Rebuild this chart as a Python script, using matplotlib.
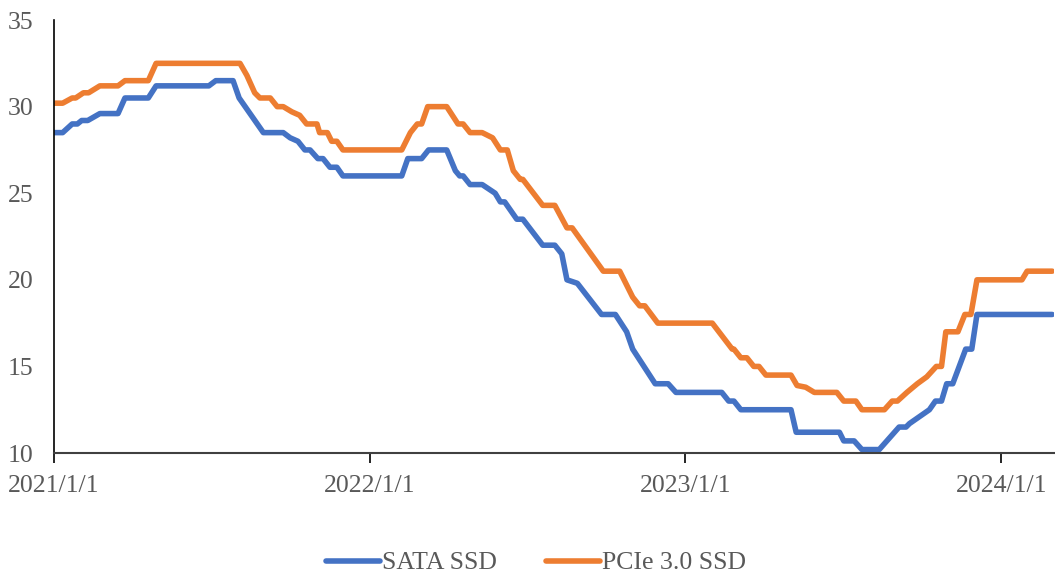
import matplotlib
matplotlib.use("Agg")
import matplotlib.pyplot as plt
import numpy as np
import pandas as pd

plt.rcParams['font.family'] = ['Liberation Serif', 'DejaVu Serif']

sata_dates = [
    "2021-01-01", "2021-01-11", "2021-01-22", "2021-01-28", "2021-02-02", "2021-02-09",
    "2021-02-23", "2021-03-16", "2021-03-24", "2021-04-20", "2021-04-29", "2021-06-29",
    "2021-07-07", "2021-07-27", "2021-08-03", "2021-08-31", "2021-09-23", "2021-10-01",
    "2021-10-10", "2021-10-18", "2021-10-24", "2021-11-02", "2021-11-08", "2021-11-16",
    "2021-11-24", "2021-12-01", "2022-02-07", "2022-02-14", "2022-03-02", "2022-03-10",
    "2022-03-31", "2022-04-10", "2022-04-15", "2022-04-19", "2022-04-27", "2022-05-11",
    "2022-05-26", "2022-06-01", "2022-06-06", "2022-06-20", "2022-06-27", "2022-07-20",
    "2022-08-03", "2022-08-11", "2022-08-17", "2022-08-29", "2022-09-26", "2022-10-12",
    "2022-10-25", "2022-11-01", "2022-11-27", "2022-12-12", "2022-12-21", "2023-02-12",
    "2023-02-20", "2023-02-26", "2023-03-06", "2023-05-03", "2023-05-09", "2023-06-28",
    "2023-07-03", "2023-07-15", "2023-07-24", "2023-08-13", "2023-09-05", "2023-09-13",
    "2023-09-17", "2023-10-10", "2023-10-17", "2023-10-24", "2023-10-30", "2023-11-06",
    "2023-11-21", "2023-11-28", "2023-12-04", "2024-02-29",
]
sata_price = [
    28.5, 28.5, 29.0, 29.0, 29.2, 29.2,
    29.6, 29.6, 30.5, 30.5, 31.2, 31.2,
    31.5, 31.5, 30.5, 28.5, 28.5, 28.2,
    28.0, 27.5, 27.5, 27.0, 27.0, 26.5,
    26.5, 26.0, 26.0, 27.0, 27.0, 27.5,
    27.5, 26.3, 26.0, 26.0, 25.5, 25.5,
    25.0, 24.5, 24.5, 23.5, 23.5, 22.0,
    22.0, 21.5, 20.0, 19.8, 18.0, 18.0,
    17.0, 16.0, 14.0, 14.0, 13.5, 13.5,
    13.0, 13.0, 12.5, 12.5, 11.2, 11.2,
    10.7, 10.7, 10.2, 10.2, 11.5, 11.5,
    11.7, 12.5, 13.0, 13.0, 14.0, 14.0,
    16.0, 16.0, 18.0, 18.0,
]

pcie_dates = [
    "2021-01-01", "2021-01-11", "2021-01-22", "2021-01-26", "2021-02-04", "2021-02-10",
    "2021-02-23", "2021-03-16", "2021-03-24", "2021-04-20", "2021-04-29", "2021-08-04",
    "2021-08-12", "2021-08-21", "2021-08-27", "2021-09-08", "2021-09-16", "2021-09-23",
    "2021-10-03", "2021-10-12", "2021-10-20", "2021-11-01", "2021-11-04", "2021-11-13",
    "2021-11-18", "2021-11-24", "2021-12-01", "2022-02-07", "2022-02-17", "2022-02-25",
    "2022-03-02", "2022-03-09", "2022-03-31", "2022-04-13", "2022-04-19", "2022-04-27",
    "2022-05-11", "2022-05-23", "2022-06-01", "2022-06-09", "2022-06-16", "2022-06-24",
    "2022-06-27", "2022-07-20", "2022-08-03", "2022-08-17", "2022-08-23", "2022-09-28",
    "2022-10-17", "2022-11-01", "2022-11-09", "2022-11-15", "2022-11-30", "2023-02-01",
    "2023-02-24", "2023-02-26", "2023-03-06", "2023-03-13", "2023-03-21", "2023-03-27",
    "2023-04-04", "2023-05-03", "2023-05-10", "2023-05-20", "2023-05-30", "2023-06-25",
    "2023-07-03", "2023-07-17", "2023-07-24", "2023-08-19", "2023-08-28", "2023-09-03",
    "2023-09-14", "2023-09-26", "2023-10-07", "2023-10-18", "2023-10-24", "2023-10-29",
    "2023-11-12", "2023-11-20", "2023-11-27", "2023-12-04", "2024-01-25", "2024-01-31",
    "2024-02-29",
]
pcie_price = [
    30.2, 30.2, 30.5, 30.5, 30.8, 30.8,
    31.2, 31.2, 31.5, 31.5, 32.5, 32.5,
    31.8, 30.8, 30.5, 30.5, 30.0, 30.0,
    29.7, 29.5, 29.0, 29.0, 28.5, 28.5,
    28.0, 28.0, 27.5, 27.5, 28.5, 29.0,
    29.0, 30.0, 30.0, 29.0, 29.0, 28.5,
    28.5, 28.2, 27.5, 27.5, 26.3, 25.8,
    25.8, 24.3, 24.3, 23.0, 23.0, 20.5,
    20.5, 19.0, 18.5, 18.5, 17.5, 17.5,
    16.0, 16.0, 15.5, 15.5, 15.0, 15.0,
    14.5, 14.5, 13.9, 13.8, 13.5, 13.5,
    13.0, 13.0, 12.5, 12.5, 13.0, 13.0,
    13.5, 14.0, 14.4, 15.0, 15.0, 17.0,
    17.0, 18.0, 18.0, 20.0, 20.0, 20.5,
    20.5,
]

year_ticks = ["2021-01-01", "2022-01-01", "2023-01-01", "2024-01-01"]
year_labels = ["2021/1/1", "2022/1/1", "2023/1/1", "2024/1/1"]

fig = plt.figure(figsize=(10.55, 5.76), dpi=100)
ax = fig.add_axes([0.0512, 0.2135, 0.9478, 0.7517])

ax.plot(pd.to_datetime(sata_dates), sata_price, color='#4472C4', lw=4,
        solid_joinstyle='round', solid_capstyle='round', label='SATA SSD')
ax.plot(pd.to_datetime(pcie_dates), pcie_price, color='#ED7D31', lw=4,
        solid_joinstyle='round', solid_capstyle='round', label='PCIe 3.0 SSD')

ax.set_xlim(pd.Timestamp("2021-01-01"), pd.Timestamp("2024-03-02"))
ax.set_ylim(10, 35)
ax.set_yticks(np.arange(10, 36, 5))
ax.set_xticks(pd.to_datetime(year_ticks))
ax.set_xticklabels(year_labels)

for s in ['top', 'right']:
    ax.spines[s].set_visible(False)
ax.spines['left'].set_color('black')
ax.spines['bottom'].set_color('#404040')
ax.spines['bottom'].set_linewidth(1.5)
ax.spines['left'].set_linewidth(1.2)

ax.tick_params(axis='y', length=0, pad=15, labelsize=18.5, labelcolor='#595959')
ax.tick_params(axis='x', length=7, width=1.2, pad=9, labelsize=18.5,
               labelcolor='#595959', direction='out')

ax.legend(loc='center', bbox_to_anchor=(0.482, -0.254), ncol=2, frameon=False,
          fontsize=18.5, handlelength=2.1, handletextpad=0.1, columnspacing=1.9,
          labelcolor='#595959')

fig.savefig("out.png", dpi=100)
